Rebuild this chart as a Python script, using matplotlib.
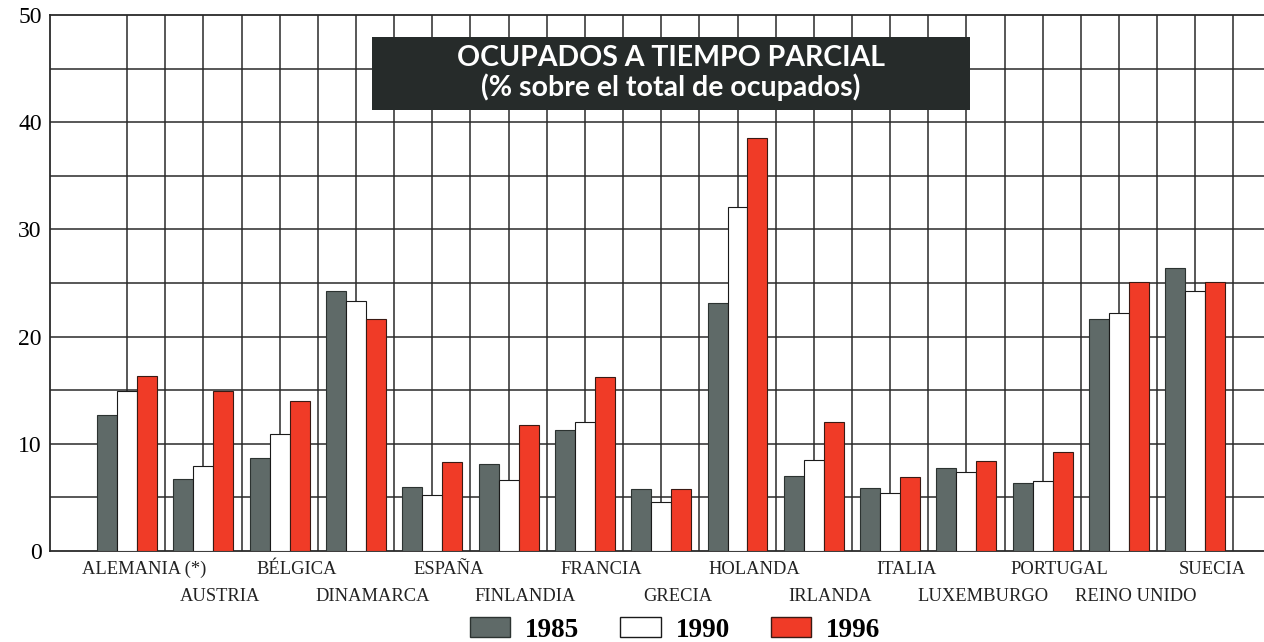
import numpy as np
import matplotlib
matplotlib.use("Agg")
import matplotlib.pyplot as plt
from matplotlib.patches import Rectangle, Patch

countries = ["ALEMANIA (*)", "AUSTRIA", "BÉLGICA", "DINAMARCA", "ESPAÑA", "FINLANDIA",
             "FRANCIA", "GRECIA", "HOLANDA", "IRLANDA", "ITALIA", "LUXEMBURGO",
             "PORTUGAL", "REINO UNIDO", "SUECIA"]
v1985 = [12.7, 6.7, 8.7, 24.3, 6.0, 8.1, 11.3, 5.8, 23.1, 7.0, 5.9, 7.7, 6.3, 21.6, 26.4]
v1990 = [14.9, 7.9, 10.9, 23.3, 5.2, 6.6, 12.0, 4.6, 32.1, 8.5, 5.4, 7.4, 6.5, 22.2, 24.3]
v1996 = [16.3, 14.9, 14.0, 21.6, 8.3, 11.8, 16.2, 5.8, 38.5, 12.0, 6.9, 8.4, 9.2, 25.1, 25.1]
years = ["1985", "1990", "1996"]
yticks = [0, 10, 20, 30, 40, 50]

GRAY = "#5f6a68"
RED = "#f03b27"
DARK = "#262b2a"

fig = plt.figure(figsize=(12.64, 6.42), dpi=100)
ax = fig.add_axes([50/1264, 1-551/642, 1-50/1264, (551-15)/642])

x = np.arange(len(countries))
w = 0.262
ax.bar(x - w, v1985, w, color=GRAY, edgecolor="#2c3331", linewidth=0.8, zorder=3)
ax.bar(x, v1990, w, color="white", edgecolor="#1a1a1a", linewidth=0.8, zorder=3)
ax.bar(x + w, v1996, w, color=RED, edgecolor="#3a1a14", linewidth=0.8, zorder=3)

ax.set_xlim(-1.01, 14.9)
ax.set_ylim(0, 50)
ax.set_yticks(yticks)
ax.set_yticklabels([str(t) for t in yticks], family="Liberation Serif", fontsize=17)
ax.tick_params(axis="y", which="both", length=0, pad=6)
ax.set_xticks([])
for xv in np.arange(0, 15, 0.5):
    ax.axvline(xv, color="#2a2a2a", linewidth=1.1, zorder=1)
for yv in np.arange(5, 50, 5):
    ax.axhline(yv, color="#2a2a2a", linewidth=1.1, zorder=1)
for s in ["left", "top", "bottom"]:
    ax.spines[s].set_color("#2a2a2a")
    ax.spines[s].set_linewidth(1.3)
ax.spines["right"].set_visible(False)

for i, name in enumerate(countries):
    yoff = -0.035 if i % 2 == 0 else -0.085
    ax.text(i + 0.22, yoff, name, transform=ax.get_xaxis_transform(),
            ha="center", va="center", family="Liberation Serif", fontsize=13.3, color="#222")

# title box
fig.patches.append(Rectangle((372/1264, 1-110/642), 598/1264, 73/642,
                             transform=fig.transFigure, facecolor=DARK, edgecolor="none", zorder=10))
fig.text(671/1264, 1-58/642, "OCUPADOS A TIEMPO PARCIAL", ha="center", va="center",
         color="white", family="Lato", weight="bold", fontsize=20.5, zorder=11)
fig.text(671/1264, 1-87/642, "(% sobre el total de ocupados)", ha="center", va="center",
         color="white", family="Lato", weight="bold", fontsize=20.5, zorder=11)

handles = [Patch(facecolor=GRAY, edgecolor="#2c3331"),
           Patch(facecolor="white", edgecolor="#1a1a1a"),
           Patch(facecolor=RED, edgecolor="#3a1a14")]
fig.legend(handles, years, loc="center", bbox_to_anchor=(675/1264, 1-630/642), ncol=3,
           frameon=False, prop={"family": "Liberation Serif", "weight": "bold", "size": 19.5},
           handlelength=1.5, handleheight=0.75, columnspacing=1.5, handletextpad=0.55)

fig.savefig("out.png", dpi=100)
